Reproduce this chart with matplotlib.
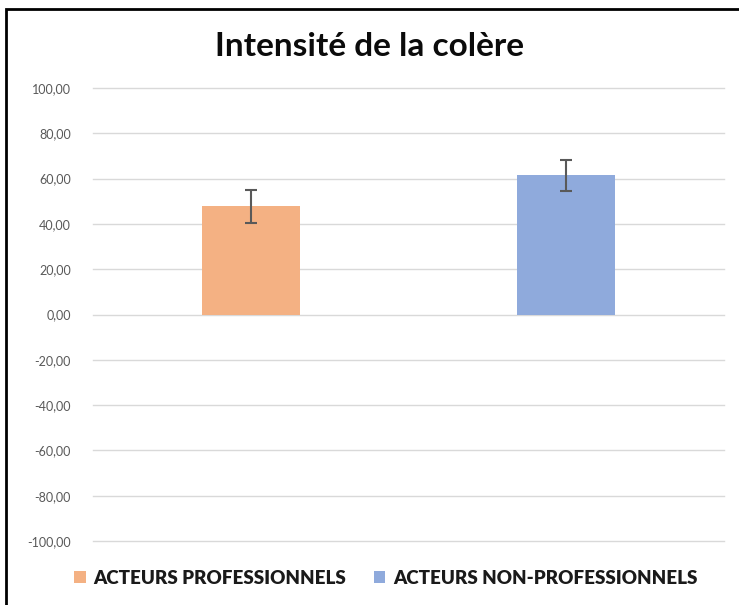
import matplotlib
matplotlib.use("Agg")
import matplotlib.pyplot as plt
import numpy as np
from matplotlib.patches import Rectangle
from matplotlib.ticker import FuncFormatter, MultipleLocator

groups = ["ACTEURS PROFESSIONNELS", "ACTEURS NON-PROFESSIONNELS"]
means = [47.8, 61.5]
errors = [7.2, 6.9]
colors = ["#F4B183", "#8FAADC"]
title = "Intensité de la colère"

W, H = 739, 605
plt.rcParams["font.family"] = ["Lato", "DejaVu Sans"]

fig = plt.figure(figsize=(W / 100, H / 100), dpi=100)
fig.patch.set_facecolor("white")
ax = fig.add_axes([93 / W, (H - 541) / H, (724 - 93) / W, (541 - 88) / H])

x = np.arange(len(groups))
for i in range(len(groups)):
    ax.bar(x[i], means[i], width=0.31, color=colors[i], label=groups[i], zorder=2)
ax.errorbar(x, means, yerr=errors, fmt="none", ecolor="#595959",
            elinewidth=1.5, capsize=4, capthick=1.5, zorder=3)

ax.set_xlim(-0.5, 1.5)
ax.set_ylim(-100, 100)
ax.yaxis.set_major_locator(MultipleLocator(20))
ax.yaxis.set_major_formatter(FuncFormatter(lambda v, p: f"{v:.2f}".replace(".", ",")))
ax.set_xticks([])
ax.tick_params(axis="y", length=0, pad=16, labelsize=9, labelcolor="#595959")
for s in ax.spines.values():
    s.set_visible(False)
ax.grid(axis="y", color="#d9d9d9", linewidth=1, zorder=0)
for gl in ax.get_ygridlines():
    gl.set_clip_on(False)

fig.text(0.5, (H - 47) / H, title, ha="center", va="center",
         fontsize=24, fontweight="bold", color="#0b0b0b")

fig.legend(loc="center", bbox_to_anchor=(0.522, (H - 578) / H), ncol=2,
           frameon=False, handlelength=0.6, handleheight=0.6, handletextpad=0.4,
           columnspacing=1.5,
           prop={"family": "Lato", "size": 13.5, "weight": "heavy"},
           labelcolor="#1a1a1a")

fig.patches.append(Rectangle((6 / W, -0.1), 1.2, (H - 9) / H + 0.1,
                             transform=fig.transFigure, fill=False,
                             edgecolor="black", linewidth=2))

fig.savefig("out.png", dpi=100)
